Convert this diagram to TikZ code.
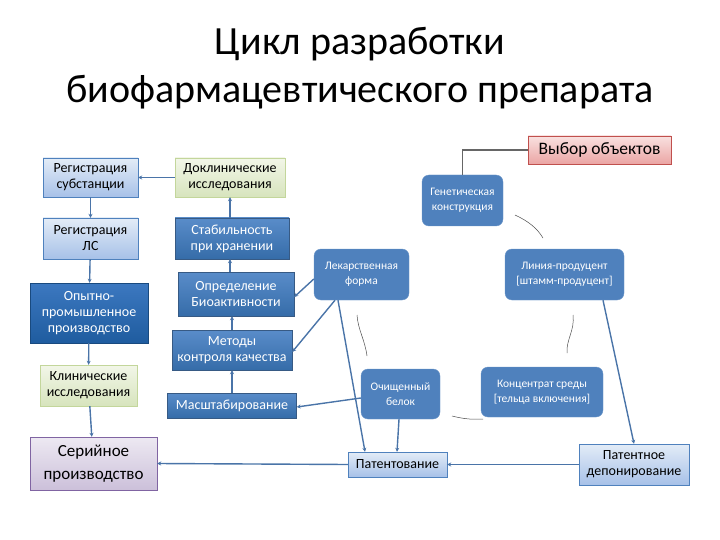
\documentclass[tikz,border=0pt]{standalone}
\usepackage{fontspec}
\setmainfont{Carlito}
\usetikzlibrary{arrows.meta}
\definecolor{bluefill}{HTML}{4F81BD}
\definecolor{bluedark}{HTML}{1F5C9F}
\definecolor{bluemid}{HTML}{3C78C0}
\definecolor{lbtop}{HTML}{E3ECF7}
\definecolor{lbbot}{HTML}{A7C1E8}
\definecolor{lbline}{HTML}{4F81BD}
\definecolor{ygtop}{HTML}{F2F6E8}
\definecolor{ygbot}{HTML}{D7E4BD}
\definecolor{ygline}{HTML}{C3D69B}
\definecolor{pktop}{HTML}{F9E1E0}
\definecolor{pkbot}{HTML}{EBA5A4}
\definecolor{pkline}{HTML}{C0504D}
\definecolor{lvtop}{HTML}{EDE9F2}
\definecolor{lvbot}{HTML}{CCC0DA}
\definecolor{lvline}{HTML}{8064A2}
\definecolor{conn}{HTML}{4A74A8}
\tikzset{
  x=1pt,y=-1pt,
  box/.style={inner sep=1pt,align=center,font=\fontsize{14}{16}\selectfont},
  lightbox/.style={box,draw=lbline,top color=lbtop,bottom color=lbbot},
  ygbox/.style={box,draw=ygline,top color=ygtop,bottom color=ygbot},
  darkbox/.style={box,draw=bluedark!80!black,top color=bluemid,bottom color=bluedark,text=white},
  midbox/.style={box,draw=bluefill!70!black,top color=bluemid!85!white,bottom color=bluedark!90!white,text=white},
  rbox/.style={inner sep=1pt,align=center,rounded corners=7pt,fill=bluefill,draw=bluefill!85!white,text=white,font=\fontsize{11.5}{15}\selectfont},
  arr/.style={draw=conn,line width=1.4pt,-{Stealth[length=4pt,width=4pt]}},
  thin/.style={draw=black!70,line width=0.5pt},
}
\begin{document}
\begin{tikzpicture}
\useasboundingbox (0,0) rectangle (720,540);
% title
\node[align=center,font=\fontsize{40}{48}\selectfont] (title) at (360,68) {Цикл разработки\\биофармацевтического препарата};
% left column
\node[lightbox,minimum width=95pt,minimum height=39pt] (rs) at (90.5,177.5) {Регистрация\\субстанции};
\node[lightbox,minimum width=95pt,minimum height=41pt] (rl) at (90.5,238.5) {Регистрация\\ЛС};
\node[darkbox,minimum width=118pt,minimum height=60pt] (op) at (89,313) {Опытно-\\промышленное\\производство};
\node[ygbox,minimum width=97pt,minimum height=41pt] (kl) at (88.5,385.5) {Клинические\\исследования};
\node[box,draw=lvline,top color=lvtop,bottom color=lvbot,minimum width=127pt,minimum height=53pt,font=\fontsize{17}{23}\selectfont] (sp) at (93.5,463.5) {Серийное\\производство};
% middle column
\node[ygbox,minimum width=110pt,minimum height=39pt] (dk) at (230,177.5) {Доклинические\\исследования};
\node[midbox,minimum width=114pt,minimum height=41pt] (st) at (232,238.5) {Стабильность\\при хранении};
\node[midbox,minimum width=116pt,minimum height=44pt] (ob) at (236,294) {Определение\\Биоактивности};
\node[midbox,minimum width=120pt,minimum height=40pt] (mk) at (232,350) {Методы\\контроля качества};
\node[midbox,minimum width=129pt,minimum height=25pt] (ms) at (232,405.5) {Масштабирование};
% right part
\node[box,draw=pkline,top color=pktop,bottom color=pkbot,minimum width=143pt,minimum height=28pt,font=\fontsize{17.5}{20}\selectfont] (vo) at (599.5,150) {Выбор объектов};
\node[rbox,minimum width=81pt,minimum height=51pt] (gk) at (462.5,200.5) {Генетическая\\конструкция};
\node[rbox,minimum width=95pt,minimum height=51pt] (lf) at (361.5,274.5) {Лекарственная\\форма};
\node[rbox,minimum width=119pt,minimum height=51pt] (lp) at (564.5,274.5) {Линия-продуцент\\{[штамм-продуцент]}};
\node[rbox,minimum width=79pt,minimum height=50pt] (cb) at (400.5,394) {Очищенный\\белок};
\node[rbox,minimum width=122pt,minimum height=50pt] (ks) at (542,392) {Концентрат среды\\{[тельца включения]}};
\node[lightbox,minimum width=99pt,minimum height=25pt] (pt) at (397.5,464.5) {Патентование};
\node[lightbox,minimum width=110pt,minimum height=41pt] (pd) at (634,464.5) {Патентное\\депонирование};
% left column arrows
\draw[arr] (rs) -- (rl);
\draw[arr] (rl) -- (op);
\draw[arr] (op) -- (kl);
\draw[arr] (kl) -- (sp);
\draw[arr] (dk.west) -- (rs.east);
% middle column arrows
\draw[arr] (st.north -| 230,0) -- (dk.south -| 230,0);
\draw[arr] (ob.north -| 230,0) -- (st.south -| 230,0);
\draw[arr] (mk.north -| 232,0) -- (ob.south -| 232,0);
\draw[arr] (ms.north -| 232,0) -- (mk.south -| 232,0);
% right connectors
\draw[draw=black!60,line width=1.4pt] (vo.west) -| (gk.north);
\draw[arr] (lf.west |- 0,279) -- (ob.east |- 0,297);
\draw[arr] (lf.south -| 335,0) -- (mk.east |- 0,352);
\draw[arr] (lf.south -| 338,0) -- (pt.north -| 365,0);
\draw[arr] (cb.west |- 0,398) -- (ms.east |- 0,407);
\draw[arr] (cb.south -| 399,0) -- (pt.north -| 397,0);
\draw[arr] (lp.south -| 603,0) -- (pd.north -| 634,0);
\draw[arr] (pd.west) -- (pt.east);
\draw[arr] (pt.west) -- (sp.east);
% thin cycle curves
\coordinate (a1) at (515,215); \coordinate (a2) at (543,238);
\draw[thin] (a1) .. controls (528,221) and (537,228) .. (a2);
\coordinate (b1) at (573,315); \coordinate (b2) at (567,353);
\draw[thin] (b1) .. controls (575,330) and (566,340) .. (b2);
\coordinate (e1) at (483,419); \coordinate (e2) at (452,416);
\draw[thin] (e1) .. controls (470,420) and (460,418) .. (e2);
\coordinate (f1) at (367,356); \coordinate (f2) at (357,315);
\draw[thin] (f1) .. controls (365,340) and (358,330) .. (f2);
\end{tikzpicture}
\end{document}
